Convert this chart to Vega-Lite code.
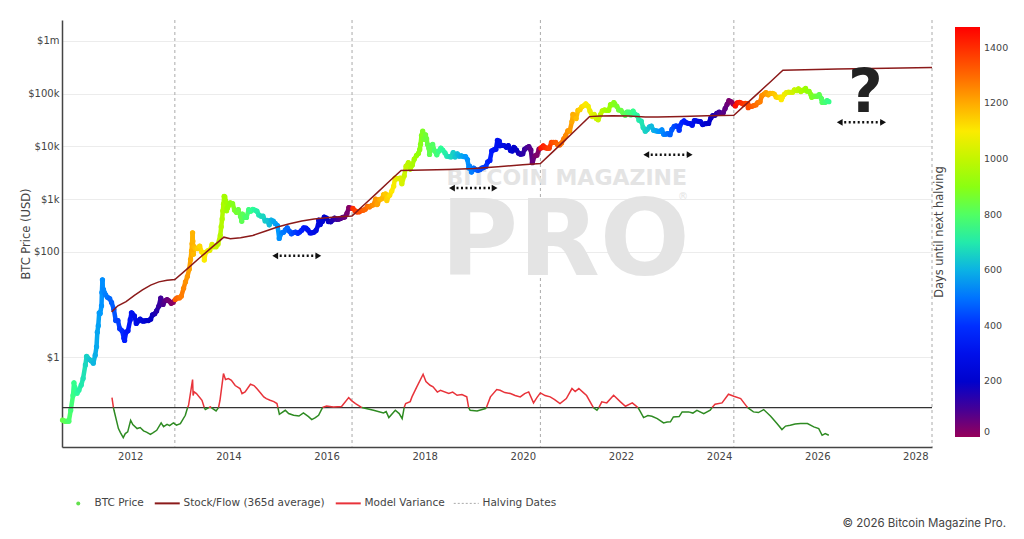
{
  "$schema": "https://vega.github.io/schema/vega-lite/v6.json",
  "width": 870,
  "height": 427,
  "autosize": {"type": "none"},
  "padding": {"left": 62, "top": 20, "right": 92, "bottom": 92},
  "background": "white",
  "config": {
    "view": {"stroke": null},
    "font": "DejaVu Sans",
    "axis": {"labelFont": "DejaVu Sans", "titleFont": "DejaVu Sans", "labelColor": "#444", "titleColor": "#444", "titleFontWeight": "normal", "ticks": false, "domainColor": "#444", "domainWidth": 1.5},
    "legend": {"labelFont": "DejaVu Sans", "titleFont": "DejaVu Sans", "labelColor": "#444", "titleColor": "#444", "titleFontWeight": "normal", "padding": 0}
  },
  "title": {"text": "© 2026 Bitcoin Magazine Pro.", "orient": "bottom", "anchor": "end", "frame": "group", "font": "Inter", "fontSize": 11.5, "fontWeight": "normal", "color": "#444", "dx": 74, "offset": 9},
  "datasets": {
    "halvings": [{"t": "2012-11-28"}, {"t": "2016-07-09"}, {"t": "2020-05-11"}, {"t": "2024-04-20"}, {"t": "2028-05-04"}],
    "arrows": [
      {"t": "2014-12-15", "t2": "2015-11-01", "p": 84},
      {"t": "2018-07-23", "t2": "2019-06-05", "p": 1620},
      {"t": "2022-07-08", "t2": "2023-05-27", "p": 6930},
      {"t": "2026-06-17", "t2": "2027-05-06", "p": 28400}
    ],
    "s2f": [
      {"t": "2011-08-15", "p": 7.3}, {"t": "2011-10-01", "p": 9.5}, {"t": "2011-12-01", "p": 11.4}, {"t": "2012-02-01", "p": 15},
      {"t": "2012-04-01", "p": 19}, {"t": "2012-06-01", "p": 23.5}, {"t": "2012-08-01", "p": 27}, {"t": "2012-10-01", "p": 29},
      {"t": "2012-11-28", "p": 30}, {"t": "2013-02-28", "p": 47.5}, {"t": "2013-05-28", "p": 75.5}, {"t": "2013-08-28", "p": 120},
      {"t": "2013-11-28", "p": 190}, {"t": "2014-01-15", "p": 178}, {"t": "2014-04-01", "p": 185}, {"t": "2014-07-01", "p": 205},
      {"t": "2014-10-01", "p": 245}, {"t": "2015-01-01", "p": 295}, {"t": "2015-04-01", "p": 340}, {"t": "2015-07-01", "p": 385},
      {"t": "2015-10-01", "p": 420}, {"t": "2016-01-01", "p": 445}, {"t": "2016-04-01", "p": 465}, {"t": "2016-07-09", "p": 480},
      {"t": "2016-10-09", "p": 789}, {"t": "2017-01-09", "p": 1295}, {"t": "2017-04-09", "p": 2125}, {"t": "2017-07-09", "p": 3490},
      {"t": "2017-10-01", "p": 3520}, {"t": "2018-01-01", "p": 3560}, {"t": "2018-07-01", "p": 3650}, {"t": "2019-01-01", "p": 3800},
      {"t": "2019-07-01", "p": 4100}, {"t": "2020-01-01", "p": 4450}, {"t": "2020-05-11", "p": 4700}, {"t": "2020-08-11", "p": 7850},
      {"t": "2020-11-11", "p": 13100}, {"t": "2021-02-11", "p": 21900}, {"t": "2021-05-11", "p": 36500}, {"t": "2021-08-01", "p": 37500},
      {"t": "2021-11-01", "p": 37800}, {"t": "2022-03-01", "p": 37500}, {"t": "2022-07-01", "p": 36000}, {"t": "2022-10-01", "p": 36000},
      {"t": "2023-04-01", "p": 36800}, {"t": "2023-10-01", "p": 37800}, {"t": "2024-04-20", "p": 38600}, {"t": "2024-07-20", "p": 63000},
      {"t": "2024-10-20", "p": 103000}, {"t": "2025-01-20", "p": 169000}, {"t": "2025-04-20", "p": 276000}, {"t": "2025-10-01", "p": 282000},
      {"t": "2026-06-01", "p": 290000}, {"t": "2027-06-01", "p": 302000}, {"t": "2028-05-04", "p": 310000}
    ],
    "variance": [
      {"t": "2011-08-18", "v": 1.0, "s": 1, "c": "pos"}, {"t": "2011-08-29", "v": 0, "s": 1, "c": "pos"},
      {"t": "2011-08-29", "v": 0, "s": 2, "c": "neg"}, {"t": "2011-09-02", "v": -0.27, "s": 2, "c": "neg"}, {"t": "2011-10-05", "v": -2.1, "s": 2, "c": "neg"},
      {"t": "2011-10-20", "v": -2.5, "s": 2, "c": "neg"}, {"t": "2011-11-10", "v": -3.0, "s": 2, "c": "neg"}, {"t": "2011-11-25", "v": -2.6, "s": 2, "c": "neg"},
      {"t": "2011-12-13", "v": -2.43, "s": 2, "c": "neg"}, {"t": "2012-01-04", "v": -1.27, "s": 2, "c": "neg"}, {"t": "2012-01-20", "v": -1.7, "s": 2, "c": "neg"},
      {"t": "2012-02-21", "v": -2.1, "s": 2, "c": "neg"}, {"t": "2012-03-15", "v": -2.0, "s": 2, "c": "neg"}, {"t": "2012-04-09", "v": -2.33, "s": 2, "c": "neg"},
      {"t": "2012-05-01", "v": -2.45, "s": 2, "c": "neg"}, {"t": "2012-05-30", "v": -2.67, "s": 2, "c": "neg"}, {"t": "2012-06-20", "v": -2.5, "s": 2, "c": "neg"},
      {"t": "2012-07-16", "v": -2.27, "s": 2, "c": "neg"}, {"t": "2012-08-18", "v": -1.53, "s": 2, "c": "neg"}, {"t": "2012-09-05", "v": -1.9, "s": 2, "c": "neg"},
      {"t": "2012-10-01", "v": -1.67, "s": 2, "c": "neg"}, {"t": "2012-10-20", "v": -1.8, "s": 2, "c": "neg"}, {"t": "2012-11-17", "v": -1.53, "s": 2, "c": "neg"},
      {"t": "2012-12-10", "v": -1.75, "s": 2, "c": "neg"}, {"t": "2013-01-08", "v": -1.6, "s": 2, "c": "neg"}, {"t": "2013-02-14", "v": -0.77, "s": 2, "c": "neg"},
      {"t": "2013-03-03", "v": 0, "s": 2, "c": "neg"},
      {"t": "2013-03-03", "v": 0, "s": 3, "c": "pos"}, {"t": "2013-03-10", "v": 0.23, "s": 3, "c": "pos"}, {"t": "2013-04-09", "v": 2.8, "s": 3, "c": "pos"},
      {"t": "2013-04-13", "v": 1.2, "s": 3, "c": "pos"}, {"t": "2013-04-20", "v": 1.57, "s": 3, "c": "pos"}, {"t": "2013-05-08", "v": 1.4, "s": 3, "c": "pos"},
      {"t": "2013-06-18", "v": 0.73, "s": 3, "c": "pos"}, {"t": "2013-07-05", "v": 0, "s": 3, "c": "pos"},
      {"t": "2013-07-05", "v": 0, "s": 4, "c": "neg"}, {"t": "2013-07-13", "v": -0.2, "s": 4, "c": "neg"}, {"t": "2013-08-08", "v": 0, "s": 4, "c": "neg"},
      {"t": "2013-08-08", "v": 0, "s": 5, "c": "pos"}, {"t": "2013-08-19", "v": 0.07, "s": 5, "c": "pos"}, {"t": "2013-08-26", "v": 0, "s": 5, "c": "pos"},
      {"t": "2013-08-26", "v": 0, "s": 6, "c": "neg"}, {"t": "2013-10-01", "v": -0.33, "s": 6, "c": "neg"}, {"t": "2013-10-19", "v": 0, "s": 6, "c": "neg"},
      {"t": "2013-10-19", "v": 0, "s": 7, "c": "pos"}, {"t": "2013-10-30", "v": 0.73, "s": 7, "c": "pos"}, {"t": "2013-11-25", "v": 3.4, "s": 7, "c": "pos"},
      {"t": "2013-12-10", "v": 2.8, "s": 7, "c": "pos"}, {"t": "2014-01-01", "v": 2.9, "s": 7, "c": "pos"}, {"t": "2014-01-23", "v": 2.73, "s": 7, "c": "pos"},
      {"t": "2014-02-20", "v": 2.2, "s": 7, "c": "pos"}, {"t": "2014-03-28", "v": 1.9, "s": 7, "c": "pos"}, {"t": "2014-04-12", "v": 1.4, "s": 7, "c": "pos"},
      {"t": "2014-05-05", "v": 1.57, "s": 7, "c": "pos"}, {"t": "2014-06-14", "v": 2.33, "s": 7, "c": "pos"}, {"t": "2014-07-10", "v": 2.2, "s": 7, "c": "pos"},
      {"t": "2014-07-31", "v": 1.9, "s": 7, "c": "pos"}, {"t": "2014-08-25", "v": 1.5, "s": 7, "c": "pos"}, {"t": "2014-09-21", "v": 1.07, "s": 7, "c": "pos"},
      {"t": "2014-10-10", "v": 0.9, "s": 7, "c": "pos"}, {"t": "2014-11-07", "v": 0.73, "s": 7, "c": "pos"}, {"t": "2014-12-05", "v": 0.6, "s": 7, "c": "pos"},
      {"t": "2014-12-28", "v": 0.4, "s": 7, "c": "pos"}, {"t": "2015-01-04", "v": 0, "s": 7, "c": "pos"},
      {"t": "2015-01-04", "v": 0, "s": 8, "c": "neg"}, {"t": "2015-01-15", "v": -0.67, "s": 8, "c": "neg"}, {"t": "2015-02-28", "v": -0.27, "s": 8, "c": "neg"},
      {"t": "2015-03-25", "v": -0.6, "s": 8, "c": "neg"}, {"t": "2015-05-01", "v": -0.77, "s": 8, "c": "neg"}, {"t": "2015-06-10", "v": -0.85, "s": 8, "c": "neg"},
      {"t": "2015-07-13", "v": -0.53, "s": 8, "c": "neg"}, {"t": "2015-08-20", "v": -0.9, "s": 8, "c": "neg"}, {"t": "2015-09-13", "v": -1.2, "s": 8, "c": "neg"},
      {"t": "2015-10-10", "v": -1.0, "s": 8, "c": "neg"}, {"t": "2015-11-03", "v": -0.77, "s": 8, "c": "neg"}, {"t": "2015-12-02", "v": 0, "s": 8, "c": "neg"},
      {"t": "2015-12-02", "v": 0, "s": 9, "c": "pos"}, {"t": "2016-01-01", "v": 0.15, "s": 9, "c": "pos"}, {"t": "2016-02-21", "v": 0.05, "s": 9, "c": "pos"},
      {"t": "2016-04-22", "v": 0.1, "s": 9, "c": "pos"}, {"t": "2016-06-14", "v": 1.0, "s": 9, "c": "pos"}, {"t": "2016-07-05", "v": 0.7, "s": 9, "c": "pos"},
      {"t": "2016-08-04", "v": 0.4, "s": 9, "c": "pos"}, {"t": "2016-09-20", "v": 0, "s": 9, "c": "pos"},
      {"t": "2016-09-20", "v": 0, "s": 10, "c": "neg"}, {"t": "2016-12-16", "v": -0.27, "s": 10, "c": "neg"}, {"t": "2017-02-28", "v": -0.53, "s": 10, "c": "neg"},
      {"t": "2017-03-20", "v": -0.4, "s": 10, "c": "neg"}, {"t": "2017-04-09", "v": -1.0, "s": 10, "c": "neg"}, {"t": "2017-05-27", "v": -0.27, "s": 10, "c": "neg"},
      {"t": "2017-06-25", "v": -0.6, "s": 10, "c": "neg"}, {"t": "2017-07-17", "v": -1.1, "s": 10, "c": "neg"}, {"t": "2017-08-01", "v": 0, "s": 10, "c": "neg"},
      {"t": "2017-08-01", "v": 0, "s": 11, "c": "pos"}, {"t": "2017-08-12", "v": 0.4, "s": 11, "c": "pos"}, {"t": "2017-09-15", "v": 0.6, "s": 11, "c": "pos"},
      {"t": "2017-09-28", "v": 1.07, "s": 11, "c": "pos"}, {"t": "2017-11-03", "v": 2.07, "s": 11, "c": "pos"}, {"t": "2017-12-20", "v": 3.33, "s": 11, "c": "pos"},
      {"t": "2018-01-10", "v": 2.6, "s": 11, "c": "pos"}, {"t": "2018-02-10", "v": 2.23, "s": 11, "c": "pos"}, {"t": "2018-03-04", "v": 2.07, "s": 11, "c": "pos"},
      {"t": "2018-04-05", "v": 1.55, "s": 11, "c": "pos"}, {"t": "2018-04-28", "v": 1.73, "s": 11, "c": "pos"}, {"t": "2018-06-29", "v": 1.4, "s": 11, "c": "pos"},
      {"t": "2018-07-28", "v": 1.55, "s": 11, "c": "pos"}, {"t": "2018-08-30", "v": 1.23, "s": 11, "c": "pos"}, {"t": "2018-10-05", "v": 1.3, "s": 11, "c": "pos"},
      {"t": "2018-11-10", "v": 1.07, "s": 11, "c": "pos"}, {"t": "2018-11-24", "v": 0, "s": 11, "c": "pos"},
      {"t": "2018-11-24", "v": 0, "s": 12, "c": "neg"}, {"t": "2018-12-05", "v": -0.27, "s": 12, "c": "neg"}, {"t": "2019-01-26", "v": -0.33, "s": 12, "c": "neg"},
      {"t": "2019-03-29", "v": -0.1, "s": 12, "c": "neg"}, {"t": "2019-04-05", "v": 0, "s": 12, "c": "neg"},
      {"t": "2019-04-05", "v": 0, "s": 13, "c": "pos"}, {"t": "2019-05-05", "v": 1.07, "s": 13, "c": "pos"}, {"t": "2019-06-21", "v": 1.8, "s": 13, "c": "pos"},
      {"t": "2019-07-16", "v": 1.73, "s": 13, "c": "pos"}, {"t": "2019-08-20", "v": 1.5, "s": 13, "c": "pos"}, {"t": "2019-10-01", "v": 1.4, "s": 13, "c": "pos"},
      {"t": "2019-11-05", "v": 1.2, "s": 13, "c": "pos"}, {"t": "2019-12-13", "v": 1.07, "s": 13, "c": "pos"}, {"t": "2020-01-15", "v": 1.4, "s": 13, "c": "pos"},
      {"t": "2020-02-14", "v": 1.57, "s": 13, "c": "pos"}, {"t": "2020-03-21", "v": 0.47, "s": 13, "c": "pos"}, {"t": "2020-04-15", "v": 1.0, "s": 13, "c": "pos"},
      {"t": "2020-05-11", "v": 1.47, "s": 13, "c": "pos"}, {"t": "2020-06-15", "v": 1.2, "s": 13, "c": "pos"}, {"t": "2020-07-23", "v": 1.07, "s": 13, "c": "pos"},
      {"t": "2020-08-25", "v": 0.8, "s": 13, "c": "pos"}, {"t": "2020-10-04", "v": 0.4, "s": 13, "c": "pos"}, {"t": "2020-11-20", "v": 0.9, "s": 13, "c": "pos"},
      {"t": "2021-01-01", "v": 1.9, "s": 13, "c": "pos"}, {"t": "2021-01-25", "v": 1.6, "s": 13, "c": "pos"}, {"t": "2021-02-21", "v": 1.9, "s": 13, "c": "pos"},
      {"t": "2021-03-29", "v": 1.47, "s": 13, "c": "pos"}, {"t": "2021-04-20", "v": 1.2, "s": 13, "c": "pos"}, {"t": "2021-05-31", "v": 0.23, "s": 13, "c": "pos"},
      {"t": "2021-06-10", "v": 0, "s": 13, "c": "pos"},
      {"t": "2021-06-10", "v": 0, "s": 14, "c": "neg"}, {"t": "2021-07-06", "v": -0.27, "s": 14, "c": "neg"}, {"t": "2021-07-20", "v": 0, "s": 14, "c": "neg"},
      {"t": "2021-07-20", "v": 0, "s": 15, "c": "pos"}, {"t": "2021-08-11", "v": 0.57, "s": 15, "c": "pos"}, {"t": "2021-09-17", "v": 0.47, "s": 15, "c": "pos"},
      {"t": "2021-11-07", "v": 1.23, "s": 15, "c": "pos"}, {"t": "2021-12-28", "v": 0.57, "s": 15, "c": "pos"}, {"t": "2022-02-03", "v": 0.13, "s": 15, "c": "pos"},
      {"t": "2022-03-26", "v": 0.47, "s": 15, "c": "pos"}, {"t": "2022-05-01", "v": 0.07, "s": 15, "c": "pos"}, {"t": "2022-05-08", "v": 0, "s": 15, "c": "pos"},
      {"t": "2022-05-08", "v": 0, "s": 16, "c": "neg"}, {"t": "2022-05-26", "v": -0.43, "s": 16, "c": "neg"}, {"t": "2022-06-18", "v": -1.0, "s": 16, "c": "neg"},
      {"t": "2022-07-20", "v": -0.8, "s": 16, "c": "neg"}, {"t": "2022-08-19", "v": -0.87, "s": 16, "c": "neg"}, {"t": "2022-09-28", "v": -1.1, "s": 16, "c": "neg"},
      {"t": "2022-11-14", "v": -1.53, "s": 16, "c": "neg"}, {"t": "2022-12-10", "v": -1.45, "s": 16, "c": "neg"}, {"t": "2023-01-04", "v": -1.43, "s": 16, "c": "neg"},
      {"t": "2023-01-26", "v": -0.93, "s": 16, "c": "neg"}, {"t": "2023-03-10", "v": -0.9, "s": 16, "c": "neg"}, {"t": "2023-04-01", "v": -0.43, "s": 16, "c": "neg"},
      {"t": "2023-05-19", "v": -0.43, "s": 16, "c": "neg"}, {"t": "2023-06-20", "v": -0.55, "s": 16, "c": "neg"}, {"t": "2023-07-20", "v": -0.27, "s": 16, "c": "neg"},
      {"t": "2023-09-09", "v": -0.6, "s": 16, "c": "neg"}, {"t": "2023-10-27", "v": -0.27, "s": 16, "c": "neg"}, {"t": "2023-11-10", "v": 0, "s": 16, "c": "neg"},
      {"t": "2023-11-10", "v": 0, "s": 17, "c": "pos"}, {"t": "2023-12-02", "v": 0.33, "s": 17, "c": "pos"}, {"t": "2024-01-23", "v": 0.47, "s": 17, "c": "pos"},
      {"t": "2024-03-11", "v": 1.33, "s": 17, "c": "pos"}, {"t": "2024-04-20", "v": 1.13, "s": 17, "c": "pos"}, {"t": "2024-06-10", "v": 0.9, "s": 17, "c": "pos"},
      {"t": "2024-07-27", "v": 0.07, "s": 17, "c": "pos"}, {"t": "2024-08-01", "v": 0, "s": 17, "c": "pos"},
      {"t": "2024-08-01", "v": 0, "s": 18, "c": "neg"}, {"t": "2024-09-13", "v": -0.43, "s": 18, "c": "neg"}, {"t": "2024-10-20", "v": -0.5, "s": 18, "c": "neg"},
      {"t": "2024-11-28", "v": -0.2, "s": 18, "c": "neg"}, {"t": "2025-01-19", "v": -0.87, "s": 18, "c": "neg"}, {"t": "2025-03-07", "v": -1.6, "s": 18, "c": "neg"},
      {"t": "2025-04-13", "v": -2.2, "s": 18, "c": "neg"}, {"t": "2025-05-10", "v": -1.85, "s": 18, "c": "neg"}, {"t": "2025-06-14", "v": -1.77, "s": 18, "c": "neg"},
      {"t": "2025-07-20", "v": -1.65, "s": 18, "c": "neg"}, {"t": "2025-08-30", "v": -1.6, "s": 18, "c": "neg"}, {"t": "2025-10-20", "v": -1.6, "s": 18, "c": "neg"},
      {"t": "2025-12-06", "v": -1.93, "s": 18, "c": "neg"}, {"t": "2026-01-12", "v": -2.1, "s": 18, "c": "neg"}, {"t": "2026-02-06", "v": -2.77, "s": 18, "c": "neg"},
      {"t": "2026-03-01", "v": -2.6, "s": 18, "c": "neg"}, {"t": "2026-03-28", "v": -2.77, "s": 18, "c": "neg"}
    ],
    "price": [
      {"t": "2010-08-15", "p": 0.065, "d": 836}, {"t": "2010-09-01", "p": 0.062, "d": 819}, {"t": "2010-09-15", "p": 0.062, "d": 805},
      {"t": "2010-10-01", "p": 0.062, "d": 789}, {"t": "2010-10-15", "p": 0.1, "d": 775}, {"t": "2010-11-01", "p": 0.19, "d": 758},
      {"t": "2010-11-08", "p": 0.33, "d": 751}, {"t": "2010-11-15", "p": 0.27, "d": 744}, {"t": "2010-12-01", "p": 0.21, "d": 728},
      {"t": "2010-12-15", "p": 0.24, "d": 714}, {"t": "2011-01-01", "p": 0.3, "d": 697}, {"t": "2011-01-15", "p": 0.4, "d": 683},
      {"t": "2011-02-01", "p": 0.72, "d": 666}, {"t": "2011-02-10", "p": 1.05, "d": 657}, {"t": "2011-02-15", "p": 1.0, "d": 652},
      {"t": "2011-03-01", "p": 0.92, "d": 638}, {"t": "2011-03-15", "p": 0.87, "d": 624}, {"t": "2011-04-01", "p": 0.78, "d": 607},
      {"t": "2011-04-15", "p": 1.1, "d": 593}, {"t": "2011-04-25", "p": 1.6, "d": 583}, {"t": "2011-05-01", "p": 3.0, "d": 577},
      {"t": "2011-05-08", "p": 4.0, "d": 570}, {"t": "2011-05-15", "p": 7.0, "d": 563}, {"t": "2011-05-22", "p": 6.8, "d": 556},
      {"t": "2011-06-01", "p": 9.5, "d": 546}, {"t": "2011-06-04", "p": 17, "d": 543}, {"t": "2011-06-08", "p": 29.6, "d": 539},
      {"t": "2011-06-12", "p": 19, "d": 535}, {"t": "2011-06-15", "p": 19.5, "d": 532}, {"t": "2011-06-22", "p": 17, "d": 525},
      {"t": "2011-07-01", "p": 15.4, "d": 516}, {"t": "2011-07-15", "p": 13.8, "d": 502}, {"t": "2011-08-01", "p": 13.0, "d": 485},
      {"t": "2011-08-15", "p": 11.0, "d": 471}, {"t": "2011-09-01", "p": 8.2, "d": 454}, {"t": "2011-09-15", "p": 5.0, "d": 440},
      {"t": "2011-10-01", "p": 5.0, "d": 424}, {"t": "2011-10-15", "p": 3.5, "d": 410}, {"t": "2011-11-01", "p": 3.2, "d": 393},
      {"t": "2011-11-15", "p": 2.3, "d": 379}, {"t": "2011-11-20", "p": 2.1, "d": 374}, {"t": "2011-12-01", "p": 3.0, "d": 363},
      {"t": "2011-12-15", "p": 3.2, "d": 349}, {"t": "2012-01-01", "p": 5.2, "d": 332}, {"t": "2012-01-10", "p": 7.0, "d": 323},
      {"t": "2012-01-15", "p": 6.8, "d": 318}, {"t": "2012-02-01", "p": 6.1, "d": 301}, {"t": "2012-02-15", "p": 4.4, "d": 287},
      {"t": "2012-03-01", "p": 4.9, "d": 272}, {"t": "2012-03-15", "p": 5.3, "d": 258}, {"t": "2012-04-01", "p": 4.9, "d": 241},
      {"t": "2012-04-15", "p": 4.9, "d": 227}, {"t": "2012-05-01", "p": 5.0, "d": 211}, {"t": "2012-05-15", "p": 5.0, "d": 197},
      {"t": "2012-06-01", "p": 5.3, "d": 180}, {"t": "2012-06-15", "p": 6.4, "d": 166}, {"t": "2012-07-01", "p": 6.7, "d": 150},
      {"t": "2012-07-15", "p": 7.6, "d": 136}, {"t": "2012-08-01", "p": 9.4, "d": 119}, {"t": "2012-08-15", "p": 13.3, "d": 105},
      {"t": "2012-09-01", "p": 10.1, "d": 88}, {"t": "2012-09-15", "p": 11.8, "d": 74}, {"t": "2012-10-01", "p": 12.4, "d": 58},
      {"t": "2012-10-15", "p": 11.8, "d": 44}, {"t": "2012-11-01", "p": 10.6, "d": 27}, {"t": "2012-11-15", "p": 11.1, "d": 13},
      {"t": "2012-12-01", "p": 12.5, "d": 1316}, {"t": "2012-12-15", "p": 13.4, "d": 1302}, {"t": "2013-01-01", "p": 13.4, "d": 1285},
      {"t": "2013-01-15", "p": 14.5, "d": 1271}, {"t": "2013-02-01", "p": 20.4, "d": 1254}, {"t": "2013-02-15", "p": 27, "d": 1240},
      {"t": "2013-03-01", "p": 34, "d": 1226}, {"t": "2013-03-15", "p": 47, "d": 1212}, {"t": "2013-03-25", "p": 72, "d": 1202},
      {"t": "2013-04-01", "p": 104, "d": 1195}, {"t": "2013-04-05", "p": 142, "d": 1191}, {"t": "2013-04-09", "p": 230, "d": 1187},
      {"t": "2013-04-11", "p": 160, "d": 1185}, {"t": "2013-04-15", "p": 90, "d": 1181}, {"t": "2013-04-20", "p": 125, "d": 1176},
      {"t": "2013-05-01", "p": 116, "d": 1165}, {"t": "2013-05-15", "p": 115, "d": 1151}, {"t": "2013-06-01", "p": 129, "d": 1134},
      {"t": "2013-06-15", "p": 100, "d": 1120}, {"t": "2013-07-01", "p": 88, "d": 1104}, {"t": "2013-07-05", "p": 70, "d": 1100},
      {"t": "2013-07-15", "p": 98, "d": 1090}, {"t": "2013-08-01", "p": 105, "d": 1073}, {"t": "2013-08-15", "p": 107, "d": 1059},
      {"t": "2013-09-01", "p": 138, "d": 1042}, {"t": "2013-09-15", "p": 125, "d": 1028}, {"t": "2013-10-01", "p": 125, "d": 1012},
      {"t": "2013-10-15", "p": 140, "d": 998}, {"t": "2013-11-01", "p": 205, "d": 981}, {"t": "2013-11-08", "p": 300, "d": 974},
      {"t": "2013-11-15", "p": 420, "d": 967}, {"t": "2013-11-20", "p": 600, "d": 962}, {"t": "2013-11-25", "p": 800, "d": 957},
      {"t": "2013-11-30", "p": 1130, "d": 952}, {"t": "2013-12-05", "p": 1100, "d": 947}, {"t": "2013-12-10", "p": 930, "d": 942},
      {"t": "2013-12-15", "p": 870, "d": 937}, {"t": "2013-12-18", "p": 600, "d": 934}, {"t": "2013-12-25", "p": 680, "d": 927},
      {"t": "2014-01-01", "p": 750, "d": 920}, {"t": "2014-01-15", "p": 850, "d": 906}, {"t": "2014-02-01", "p": 820, "d": 889},
      {"t": "2014-02-15", "p": 620, "d": 875}, {"t": "2014-03-01", "p": 560, "d": 861}, {"t": "2014-03-15", "p": 630, "d": 847},
      {"t": "2014-04-01", "p": 470, "d": 830}, {"t": "2014-04-10", "p": 380, "d": 821}, {"t": "2014-04-15", "p": 520, "d": 816},
      {"t": "2014-05-01", "p": 450, "d": 800}, {"t": "2014-05-15", "p": 450, "d": 786}, {"t": "2014-06-01", "p": 630, "d": 769},
      {"t": "2014-06-15", "p": 590, "d": 755}, {"t": "2014-07-01", "p": 640, "d": 739}, {"t": "2014-07-15", "p": 620, "d": 725},
      {"t": "2014-08-01", "p": 590, "d": 708}, {"t": "2014-08-15", "p": 500, "d": 694}, {"t": "2014-09-01", "p": 475, "d": 677},
      {"t": "2014-09-15", "p": 475, "d": 663}, {"t": "2014-10-01", "p": 385, "d": 647}, {"t": "2014-10-15", "p": 395, "d": 633},
      {"t": "2014-11-01", "p": 325, "d": 616}, {"t": "2014-11-15", "p": 400, "d": 602}, {"t": "2014-12-01", "p": 380, "d": 586},
      {"t": "2014-12-15", "p": 345, "d": 572}, {"t": "2015-01-01", "p": 315, "d": 555}, {"t": "2015-01-14", "p": 180, "d": 542},
      {"t": "2015-02-01", "p": 230, "d": 524}, {"t": "2015-02-15", "p": 235, "d": 510}, {"t": "2015-03-01", "p": 260, "d": 496},
      {"t": "2015-03-15", "p": 285, "d": 482}, {"t": "2015-04-01", "p": 245, "d": 465}, {"t": "2015-04-15", "p": 220, "d": 451},
      {"t": "2015-05-01", "p": 232, "d": 435}, {"t": "2015-05-15", "p": 237, "d": 421}, {"t": "2015-06-01", "p": 225, "d": 404},
      {"t": "2015-06-15", "p": 237, "d": 390}, {"t": "2015-07-01", "p": 258, "d": 374}, {"t": "2015-07-15", "p": 285, "d": 360},
      {"t": "2015-08-01", "p": 282, "d": 343}, {"t": "2015-08-15", "p": 260, "d": 329}, {"t": "2015-09-01", "p": 228, "d": 312},
      {"t": "2015-09-15", "p": 230, "d": 298}, {"t": "2015-10-01", "p": 237, "d": 282}, {"t": "2015-10-15", "p": 255, "d": 268},
      {"t": "2015-11-01", "p": 325, "d": 251}, {"t": "2015-11-04", "p": 400, "d": 248}, {"t": "2015-11-15", "p": 330, "d": 237},
      {"t": "2015-12-01", "p": 378, "d": 221}, {"t": "2015-12-15", "p": 455, "d": 207}, {"t": "2016-01-01", "p": 434, "d": 190},
      {"t": "2016-01-15", "p": 375, "d": 176}, {"t": "2016-02-01", "p": 372, "d": 159}, {"t": "2016-02-15", "p": 400, "d": 145},
      {"t": "2016-03-01", "p": 435, "d": 130}, {"t": "2016-03-15", "p": 415, "d": 116}, {"t": "2016-04-01", "p": 417, "d": 99},
      {"t": "2016-04-15", "p": 430, "d": 85}, {"t": "2016-05-01", "p": 450, "d": 69}, {"t": "2016-05-15", "p": 456, "d": 55},
      {"t": "2016-06-01", "p": 535, "d": 38}, {"t": "2016-06-15", "p": 690, "d": 24}, {"t": "2016-07-01", "p": 675, "d": 8},
      {"t": "2016-07-15", "p": 665, "d": 1396}, {"t": "2016-08-01", "p": 600, "d": 1379}, {"t": "2016-08-15", "p": 570, "d": 1365},
      {"t": "2016-09-01", "p": 575, "d": 1348}, {"t": "2016-09-15", "p": 608, "d": 1334}, {"t": "2016-10-01", "p": 615, "d": 1318},
      {"t": "2016-10-15", "p": 640, "d": 1304}, {"t": "2016-11-01", "p": 730, "d": 1287}, {"t": "2016-11-15", "p": 710, "d": 1273},
      {"t": "2016-12-01", "p": 755, "d": 1257}, {"t": "2016-12-15", "p": 780, "d": 1243}, {"t": "2017-01-01", "p": 1000, "d": 1226},
      {"t": "2017-01-11", "p": 790, "d": 1216}, {"t": "2017-01-15", "p": 820, "d": 1212}, {"t": "2017-02-01", "p": 990, "d": 1195},
      {"t": "2017-02-15", "p": 1010, "d": 1181}, {"t": "2017-03-01", "p": 1220, "d": 1167}, {"t": "2017-03-15", "p": 1250, "d": 1153},
      {"t": "2017-03-25", "p": 940, "d": 1143}, {"t": "2017-04-01", "p": 1080, "d": 1136}, {"t": "2017-04-15", "p": 1180, "d": 1122},
      {"t": "2017-05-01", "p": 1420, "d": 1106}, {"t": "2017-05-15", "p": 1750, "d": 1092}, {"t": "2017-05-25", "p": 2500, "d": 1082},
      {"t": "2017-06-01", "p": 2400, "d": 1075}, {"t": "2017-06-15", "p": 2450, "d": 1061}, {"t": "2017-07-01", "p": 2500, "d": 1045},
      {"t": "2017-07-15", "p": 1950, "d": 1031}, {"t": "2017-08-01", "p": 2750, "d": 1014}, {"t": "2017-08-15", "p": 4200, "d": 1000},
      {"t": "2017-09-01", "p": 4900, "d": 983}, {"t": "2017-09-15", "p": 3700, "d": 969}, {"t": "2017-10-01", "p": 4400, "d": 953},
      {"t": "2017-10-15", "p": 5700, "d": 939}, {"t": "2017-11-01", "p": 6700, "d": 922}, {"t": "2017-11-15", "p": 7300, "d": 908},
      {"t": "2017-11-25", "p": 8700, "d": 898}, {"t": "2017-12-01", "p": 10900, "d": 892}, {"t": "2017-12-08", "p": 16000, "d": 885},
      {"t": "2017-12-17", "p": 19300, "d": 876}, {"t": "2017-12-22", "p": 14000, "d": 871}, {"t": "2018-01-01", "p": 13500, "d": 861},
      {"t": "2018-01-07", "p": 16500, "d": 855}, {"t": "2018-01-15", "p": 13800, "d": 847}, {"t": "2018-01-22", "p": 10800, "d": 840},
      {"t": "2018-02-01", "p": 9200, "d": 830}, {"t": "2018-02-06", "p": 7000, "d": 825}, {"t": "2018-02-15", "p": 10200, "d": 816},
      {"t": "2018-03-01", "p": 10900, "d": 802}, {"t": "2018-03-15", "p": 8200, "d": 788}, {"t": "2018-04-01", "p": 6900, "d": 771},
      {"t": "2018-04-15", "p": 8100, "d": 757}, {"t": "2018-05-01", "p": 9200, "d": 741}, {"t": "2018-05-15", "p": 8500, "d": 727},
      {"t": "2018-06-01", "p": 7500, "d": 710}, {"t": "2018-06-15", "p": 6500, "d": 696}, {"t": "2018-07-01", "p": 6400, "d": 680},
      {"t": "2018-07-15", "p": 6300, "d": 666}, {"t": "2018-08-01", "p": 7600, "d": 649}, {"t": "2018-08-15", "p": 6300, "d": 635},
      {"t": "2018-09-01", "p": 7200, "d": 618}, {"t": "2018-09-15", "p": 6500, "d": 604}, {"t": "2018-10-01", "p": 6600, "d": 588},
      {"t": "2018-10-15", "p": 6400, "d": 574}, {"t": "2018-11-01", "p": 6350, "d": 557}, {"t": "2018-11-15", "p": 5600, "d": 543},
      {"t": "2018-11-25", "p": 3900, "d": 533}, {"t": "2018-12-01", "p": 4200, "d": 527}, {"t": "2018-12-15", "p": 3250, "d": 513},
      {"t": "2019-01-01", "p": 3850, "d": 496}, {"t": "2019-01-15", "p": 3600, "d": 482}, {"t": "2019-02-01", "p": 3500, "d": 465},
      {"t": "2019-02-15", "p": 3600, "d": 451}, {"t": "2019-03-01", "p": 3850, "d": 437}, {"t": "2019-03-15", "p": 3950, "d": 423},
      {"t": "2019-04-01", "p": 4150, "d": 406}, {"t": "2019-04-15", "p": 5050, "d": 392}, {"t": "2019-05-01", "p": 5400, "d": 376},
      {"t": "2019-05-15", "p": 8200, "d": 362}, {"t": "2019-06-01", "p": 8600, "d": 345}, {"t": "2019-06-15", "p": 8800, "d": 331},
      {"t": "2019-06-26", "p": 12900, "d": 320}, {"t": "2019-07-01", "p": 10600, "d": 315}, {"t": "2019-07-10", "p": 12500, "d": 306},
      {"t": "2019-07-15", "p": 10200, "d": 301}, {"t": "2019-08-01", "p": 10400, "d": 284}, {"t": "2019-08-15", "p": 10300, "d": 270},
      {"t": "2019-09-01", "p": 9600, "d": 253}, {"t": "2019-09-15", "p": 10300, "d": 239}, {"t": "2019-10-01", "p": 8300, "d": 223},
      {"t": "2019-10-15", "p": 8150, "d": 209}, {"t": "2019-10-26", "p": 9500, "d": 198}, {"t": "2019-11-01", "p": 9250, "d": 192},
      {"t": "2019-11-15", "p": 8500, "d": 178}, {"t": "2019-12-01", "p": 7400, "d": 162}, {"t": "2019-12-15", "p": 7100, "d": 148},
      {"t": "2020-01-01", "p": 7200, "d": 131}, {"t": "2020-01-15", "p": 8800, "d": 117}, {"t": "2020-02-01", "p": 9400, "d": 100},
      {"t": "2020-02-15", "p": 9900, "d": 85}, {"t": "2020-03-01", "p": 8550, "d": 71}, {"t": "2020-03-12", "p": 4900, "d": 60},
      {"t": "2020-03-15", "p": 5400, "d": 57}, {"t": "2020-04-01", "p": 6600, "d": 40}, {"t": "2020-04-15", "p": 6800, "d": 26},
      {"t": "2020-05-01", "p": 8800, "d": 10}, {"t": "2020-05-15", "p": 9300, "d": 1436}, {"t": "2020-06-01", "p": 10200, "d": 1419},
      {"t": "2020-06-15", "p": 9400, "d": 1405}, {"t": "2020-07-01", "p": 9200, "d": 1389}, {"t": "2020-07-15", "p": 9200, "d": 1375},
      {"t": "2020-08-01", "p": 11800, "d": 1358}, {"t": "2020-08-15", "p": 11900, "d": 1344}, {"t": "2020-09-01", "p": 11900, "d": 1327},
      {"t": "2020-09-15", "p": 10800, "d": 1313}, {"t": "2020-10-01", "p": 10600, "d": 1297}, {"t": "2020-10-15", "p": 11500, "d": 1283},
      {"t": "2020-11-01", "p": 13800, "d": 1266}, {"t": "2020-11-15", "p": 16000, "d": 1252}, {"t": "2020-12-01", "p": 19600, "d": 1236},
      {"t": "2020-12-15", "p": 19400, "d": 1222}, {"t": "2021-01-01", "p": 29400, "d": 1205}, {"t": "2021-01-08", "p": 40000, "d": 1198},
      {"t": "2021-01-15", "p": 36800, "d": 1191}, {"t": "2021-02-01", "p": 33500, "d": 1174}, {"t": "2021-02-15", "p": 48000, "d": 1160},
      {"t": "2021-03-01", "p": 49500, "d": 1146}, {"t": "2021-03-15", "p": 56000, "d": 1132}, {"t": "2021-04-01", "p": 59000, "d": 1115},
      {"t": "2021-04-14", "p": 63500, "d": 1102}, {"t": "2021-05-01", "p": 57800, "d": 1085}, {"t": "2021-05-15", "p": 46500, "d": 1071},
      {"t": "2021-06-01", "p": 36700, "d": 1054}, {"t": "2021-06-15", "p": 40200, "d": 1040}, {"t": "2021-07-01", "p": 33500, "d": 1024},
      {"t": "2021-07-15", "p": 31800, "d": 1010}, {"t": "2021-08-01", "p": 39900, "d": 993}, {"t": "2021-08-15", "p": 47000, "d": 979},
      {"t": "2021-09-01", "p": 48800, "d": 962}, {"t": "2021-09-15", "p": 48000, "d": 948}, {"t": "2021-10-01", "p": 48200, "d": 932},
      {"t": "2021-10-15", "p": 61500, "d": 918}, {"t": "2021-11-01", "p": 61300, "d": 901}, {"t": "2021-11-09", "p": 67500, "d": 893},
      {"t": "2021-11-15", "p": 63500, "d": 887}, {"t": "2021-12-01", "p": 57200, "d": 871}, {"t": "2021-12-15", "p": 48900, "d": 857},
      {"t": "2022-01-01", "p": 47700, "d": 840}, {"t": "2022-01-15", "p": 43100, "d": 826}, {"t": "2022-02-01", "p": 38700, "d": 809},
      {"t": "2022-02-15", "p": 44500, "d": 795}, {"t": "2022-03-01", "p": 44400, "d": 781}, {"t": "2022-03-15", "p": 39300, "d": 767},
      {"t": "2022-04-01", "p": 46300, "d": 750}, {"t": "2022-04-15", "p": 40500, "d": 736}, {"t": "2022-05-01", "p": 38500, "d": 720},
      {"t": "2022-05-15", "p": 31300, "d": 706}, {"t": "2022-06-01", "p": 29800, "d": 689}, {"t": "2022-06-15", "p": 22600, "d": 675},
      {"t": "2022-07-01", "p": 19300, "d": 659}, {"t": "2022-07-15", "p": 20800, "d": 645}, {"t": "2022-08-01", "p": 23300, "d": 628},
      {"t": "2022-08-15", "p": 24100, "d": 614}, {"t": "2022-09-01", "p": 20100, "d": 597}, {"t": "2022-09-15", "p": 19700, "d": 583},
      {"t": "2022-10-01", "p": 19300, "d": 567}, {"t": "2022-10-15", "p": 19100, "d": 553}, {"t": "2022-11-01", "p": 20500, "d": 536},
      {"t": "2022-11-15", "p": 16900, "d": 522}, {"t": "2022-12-01", "p": 17000, "d": 506}, {"t": "2022-12-15", "p": 17400, "d": 492},
      {"t": "2023-01-01", "p": 16600, "d": 475}, {"t": "2023-01-15", "p": 20900, "d": 461}, {"t": "2023-02-01", "p": 23700, "d": 444},
      {"t": "2023-02-15", "p": 24300, "d": 430}, {"t": "2023-03-01", "p": 23600, "d": 416}, {"t": "2023-03-10", "p": 20200, "d": 407},
      {"t": "2023-03-15", "p": 24400, "d": 402}, {"t": "2023-04-01", "p": 28500, "d": 385}, {"t": "2023-04-15", "p": 30300, "d": 371},
      {"t": "2023-05-01", "p": 28000, "d": 355}, {"t": "2023-05-15", "p": 27200, "d": 341}, {"t": "2023-06-01", "p": 26800, "d": 324},
      {"t": "2023-06-15", "p": 25100, "d": 310}, {"t": "2023-07-01", "p": 30600, "d": 294}, {"t": "2023-07-15", "p": 30300, "d": 280},
      {"t": "2023-08-01", "p": 29700, "d": 263}, {"t": "2023-08-15", "p": 29200, "d": 249}, {"t": "2023-09-01", "p": 25900, "d": 232},
      {"t": "2023-09-15", "p": 26600, "d": 218}, {"t": "2023-10-01", "p": 27000, "d": 202}, {"t": "2023-10-15", "p": 27100, "d": 188},
      {"t": "2023-11-01", "p": 34600, "d": 171}, {"t": "2023-11-15", "p": 37900, "d": 157}, {"t": "2023-12-01", "p": 38700, "d": 141},
      {"t": "2023-12-15", "p": 41900, "d": 127}, {"t": "2024-01-01", "p": 44200, "d": 110}, {"t": "2024-01-15", "p": 42500, "d": 96},
      {"t": "2024-02-01", "p": 43100, "d": 79}, {"t": "2024-02-15", "p": 51900, "d": 65}, {"t": "2024-03-01", "p": 62400, "d": 50},
      {"t": "2024-03-14", "p": 73000, "d": 37}, {"t": "2024-04-01", "p": 69700, "d": 19}, {"t": "2024-04-15", "p": 63400, "d": 5},
      {"t": "2024-05-01", "p": 58300, "d": 1450}, {"t": "2024-05-15", "p": 66200, "d": 1436}, {"t": "2024-06-01", "p": 67800, "d": 1419},
      {"t": "2024-06-15", "p": 66000, "d": 1405}, {"t": "2024-07-01", "p": 62700, "d": 1389}, {"t": "2024-07-15", "p": 64800, "d": 1375},
      {"t": "2024-08-01", "p": 64600, "d": 1358}, {"t": "2024-08-05", "p": 54000, "d": 1354}, {"t": "2024-08-15", "p": 57500, "d": 1344},
      {"t": "2024-09-01", "p": 57300, "d": 1327}, {"t": "2024-09-15", "p": 59100, "d": 1313}, {"t": "2024-10-01", "p": 60800, "d": 1297},
      {"t": "2024-10-15", "p": 67000, "d": 1283}, {"t": "2024-11-01", "p": 69500, "d": 1266}, {"t": "2024-11-15", "p": 91000, "d": 1252},
      {"t": "2024-12-01", "p": 97200, "d": 1236}, {"t": "2024-12-15", "p": 104300, "d": 1222}, {"t": "2025-01-01", "p": 94400, "d": 1205},
      {"t": "2025-01-15", "p": 100500, "d": 1191}, {"t": "2025-02-01", "p": 100600, "d": 1174}, {"t": "2025-02-15", "p": 97500, "d": 1160},
      {"t": "2025-03-01", "p": 86000, "d": 1146}, {"t": "2025-03-15", "p": 84300, "d": 1132}, {"t": "2025-04-01", "p": 85200, "d": 1115},
      {"t": "2025-04-08", "p": 76300, "d": 1108}, {"t": "2025-04-15", "p": 83600, "d": 1101}, {"t": "2025-05-01", "p": 96500, "d": 1085},
      {"t": "2025-05-15", "p": 103500, "d": 1071}, {"t": "2025-06-01", "p": 105800, "d": 1054}, {"t": "2025-06-15", "p": 105500, "d": 1040},
      {"t": "2025-07-01", "p": 105700, "d": 1024}, {"t": "2025-07-15", "p": 117700, "d": 1010}, {"t": "2025-08-01", "p": 113300, "d": 993},
      {"t": "2025-08-14", "p": 122000, "d": 980}, {"t": "2025-09-01", "p": 109200, "d": 962}, {"t": "2025-09-15", "p": 115300, "d": 948},
      {"t": "2025-10-01", "p": 118600, "d": 932}, {"t": "2025-10-06", "p": 124700, "d": 927}, {"t": "2025-10-15", "p": 111000, "d": 918},
      {"t": "2025-11-01", "p": 110100, "d": 901}, {"t": "2025-11-15", "p": 95000, "d": 887}, {"t": "2025-11-21", "p": 85000, "d": 881},
      {"t": "2025-12-01", "p": 88000, "d": 871}, {"t": "2025-12-15", "p": 89000, "d": 857}, {"t": "2026-01-01", "p": 88700, "d": 840},
      {"t": "2026-01-15", "p": 95000, "d": 826}, {"t": "2026-02-01", "p": 80000, "d": 809}, {"t": "2026-02-06", "p": 68000, "d": 804},
      {"t": "2026-02-15", "p": 69000, "d": 795}, {"t": "2026-03-01", "p": 68000, "d": 781}, {"t": "2026-03-15", "p": 73000, "d": 767},
      {"t": "2026-03-28", "p": 70000, "d": 754}
    ]
  },
  "layer": [
    {
      "data": {"name": "halvings"},
      "mark": {"type": "rule", "strokeDash": [3, 3], "strokeWidth": 1},
      "encoding": {
        "x": {"field": "t", "type": "temporal", "scale": {"domain": [{"year": 2010, "month": 8, "date": 11}, {"year": 2028, "month": 5, "date": 4}]},
              "axis": {"title": null, "grid": false, "format": "%Y", "labelFontSize": 10, "labelPadding": 4,
                       "values": [{"year": 2012}, {"year": 2014}, {"year": 2016}, {"year": 2018}, {"year": 2020}, {"year": 2022}, {"year": 2024}, {"year": 2026}, {"year": 2028}]}},
        "stroke": {
          "datum": "Halving Dates",
          "type": "nominal",
          "scale": {"domain": ["BTC Price", "Stock/Flow (365d average)", "Model Variance", "Halving Dates"], "range": ["#62e04c", "#8b1a1a", "#e8333a", "#aaaaaa"]},
          "legend": {
            "title": null,
            "orient": "none",
            "legendX": 11,
            "legendY": 478,
            "direction": "horizontal",
            "columns": 4,
            "values": ["BTC Price", "Stock/Flow (365d average)", "Model Variance", "Halving Dates"],
            "symbolType": "stroke",
            "symbolSize": 625,
            "symbolStrokeWidth": 2,
            "labelFontSize": 10.5,
            "labelOffset": 11,
            "columnPadding": 6,
            "encode": {
              "symbols": {
                "update": {
                  "shape": {"signal": "datum.value === 'BTC Price' ? 'circle' : 'stroke'"},
                  "size": {"signal": "datum.value === 'BTC Price' ? 16 : 625"},
                  "fill": {"signal": "datum.value === 'BTC Price' ? '#62e04c' : 'transparent'"},
                  "strokeWidth": {"signal": "datum.value === 'BTC Price' ? 0 : datum.value === 'Halving Dates' ? 1 : 2"},
                  "strokeDash": {"signal": "datum.value === 'Halving Dates' ? [2, 2] : []"}
                }
              }
            }
          }
        }
      }
    },
    {
      "encoding": {
        "x": {"field": "t", "type": "temporal", "scale": {"domain": [{"year": 2010, "month": 8, "date": 11}, {"year": 2028, "month": 5, "date": 4}]}, "title": null},
        "y": {
          "field": "p",
          "type": "quantitative",
          "scale": {"type": "log", "domain": [0.0201, 2470000], "nice": false},
          "axis": {
            "title": "BTC Price (USD)",
            "titleFontSize": 11.5,
            "titlePadding": -4,
            "values": [1, 100, 1000, 10000, 100000, 1000000],
            "labelExpr": "datum.value >= 1000000 ? '$' + datum.value / 1000000 + 'm' : datum.value >= 1000 ? '$' + datum.value / 1000 + 'k' : '$' + datum.value",
            "labelFontSize": 10,
            "labelPadding": 3,
            "grid": true,
            "gridColor": "#ececec"
          }
        }
      },
      "layer": [
        {
          "data": {"values": [{"t": "2020-11-23", "p": 1868, "label": "BITCOIN MAGAZINE"}]},
          "mark": {"type": "text", "font": "DejaVu Sans", "fontWeight": "bold", "fontSize": 22, "align": "center", "baseline": "alphabetic", "color": "#e4e4e4"},
          "encoding": {"text": {"field": "label"}}
        },
        {
          "data": {"values": [{"t": "2020-11-12", "p": 36.5, "label": "PRO"}]},
          "mark": {"type": "text", "font": "DejaVu Sans", "fontWeight": "bold", "fontSize": 106, "align": "center", "baseline": "alphabetic", "color": "#e4e4e4"},
          "encoding": {"text": {"field": "label"}}
        },
        {
          "data": {"values": [{"t": "2023-04-08", "p": 1105, "label": "®"}]},
          "mark": {"type": "text", "font": "DejaVu Sans", "fontSize": 10, "align": "center", "baseline": "middle", "color": "#e4e4e4"},
          "encoding": {"text": {"field": "label"}}
        },
        {
          "data": {"name": "price"},
          "transform": [
            {"window": [{"op": "lead", "field": "t", "as": "tn"}, {"op": "lead", "field": "p", "as": "pn"}], "sort": [{"field": "t"}]},
            {"filter": "datum.tn != null"}
          ],
          "mark": {"type": "rule", "strokeWidth": 4.5, "strokeCap": "round"},
          "encoding": {
            "x2": {"field": "tn"},
            "y2": {"field": "pn"},
            "color": {
              "field": "d",
              "type": "quantitative",
              "scale": {
                "domain": [0, 184.4, 368.75, 553.1, 737.5, 921.9, 1106.25, 1290.6, 1475],
                "range": ["#96005a", "#0000c8", "#0019ff", "#0098ff", "#2cff96", "#97ff00", "#ffea00", "#ff6f00", "#ff0000"],
                "interpolate": "rgb"
              },
              "legend": null
            }
          }
        },
        {
          "data": {"name": "price"},
          "mark": {"type": "circle", "size": 28, "opacity": 1},
          "encoding": {
            "color": {
              "field": "d",
              "type": "quantitative",
              "scale": {
                "domain": [0, 184.4, 368.75, 553.1, 737.5, 921.9, 1106.25, 1290.6, 1475],
                "range": ["#96005a", "#0000c8", "#0019ff", "#0098ff", "#2cff96", "#97ff00", "#ffea00", "#ff6f00", "#ff0000"],
                "interpolate": "rgb"
              },
              "legend": {
                "title": "Days until next halving",
                "orient": "none",
                "legendX": 872,
                "legendY": 7,
                "direction": "vertical",
                "gradientLength": 410,
                "gradientThickness": 25,
                "gradientStrokeWidth": 0,
                "titleOrient": "left",
                "titleAnchor": "middle",
                "titleFontSize": 11.4,
                "titlePadding": 9,
                "values": [0, 200, 400, 600, 800, 1000, 1200, 1400],
                "format": "d",
                "labelFontSize": 9.5,
                "labelOffset": 4,
                "encode": {"title": {"update": {"angle": {"value": -90}}}}
              }
            }
          }
        },
        {
          "data": {"name": "s2f"},
          "mark": {"type": "line", "strokeWidth": 1.5},
          "encoding": {"stroke": {"datum": "Stock/Flow (365d average)", "type": "nominal"}}
        },
        {
          "data": {"name": "arrows"},
          "mark": {"type": "rule", "strokeDash": [2, 2.5], "strokeWidth": 2.5, "color": "#111"},
          "encoding": {"x2": {"field": "t2"}}
        },
        {
          "data": {"name": "arrows"},
          "mark": {"type": "point", "shape": "triangle-left", "filled": true, "size": 45, "color": "#111", "opacity": 1},
          "encoding": {}
        },
        {
          "data": {"name": "arrows"},
          "mark": {"type": "point", "shape": "triangle-right", "filled": true, "size": 45, "color": "#111", "opacity": 1},
          "encoding": {"x": {"field": "t2", "type": "temporal", "scale": {"domain": [{"year": 2010, "month": 8, "date": 11}, {"year": 2028, "month": 5, "date": 4}]}, "title": null}}
        },
        {
          "data": {"values": [{"t": "2026-12-25", "p": 45400, "label": "?"}]},
          "mark": {"type": "text", "font": "DejaVu Sans", "fontWeight": "bold", "fontSize": 60, "align": "center", "baseline": "alphabetic", "color": "#222"},
          "encoding": {"text": {"field": "label"}}
        }
      ],
      "resolve": {"legend": {"color": "independent"}}
    },
    {
      "data": {"values": [{"v": 0}]},
      "mark": {"type": "rule", "color": "#333", "strokeWidth": 1.2},
      "encoding": {"y": {"field": "v", "type": "quantitative", "scale": {"domain": [-3.94, 38.73], "nice": false, "zero": false}, "axis": null}}
    },
    {
      "data": {"name": "variance"},
      "encoding": {
        "x": {"field": "t", "type": "temporal", "scale": {"domain": [{"year": 2010, "month": 8, "date": 11}, {"year": 2028, "month": 5, "date": 4}]}, "title": null},
        "y": {"field": "v", "type": "quantitative", "scale": {"domain": [-3.94, 38.73], "nice": false, "zero": false}, "axis": null},
        "detail": {"field": "s", "type": "nominal"}
      },
      "layer": [
        {
          "transform": [{"filter": "datum.c === 'pos'"}],
          "mark": {"type": "line", "strokeWidth": 1.5},
          "encoding": {"stroke": {"datum": "Model Variance", "type": "nominal"}}
        },
        {
          "transform": [{"filter": "datum.c === 'neg'"}],
          "mark": {"type": "line", "strokeWidth": 1.5, "stroke": "#2e8b22"},
          "encoding": {}
        }
      ]
    }
  ],
  "resolve": {"scale": {"y": "independent"}}
}
